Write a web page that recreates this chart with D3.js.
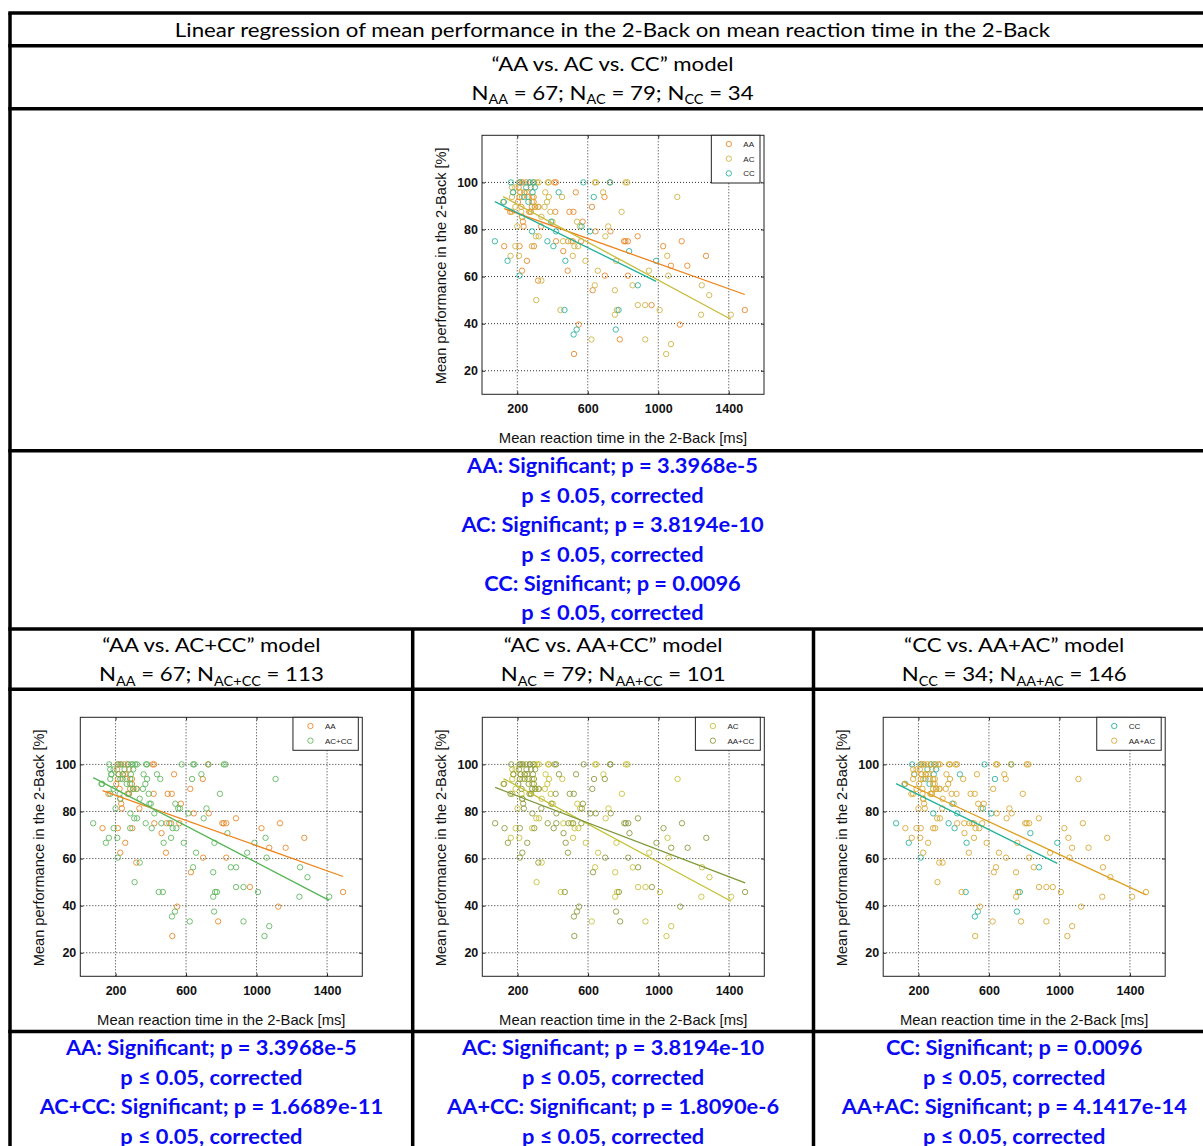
<!DOCTYPE html>
<html>
<head>
<meta charset="utf-8">
<script src="https://cdn.jsdelivr.net/npm/d3@7"></script>
<style>
  html, body { margin: 0; padding: 0; background: #fff; }
  svg { display: block; }
</style>
</head>
<body>
<svg id="chart" width="1203" height="1146"></svg>
<script>
// ---- Data: [mean reaction time (ms), mean performance (%)] per genotype ----
const groupAA = [
  [211,100],[227,100],[270,100],[410,100],[419,100],[725,100],
  [208,97.9],[277,97.9],
  [217,95.8],[255,95.8],[532,95.8],
  [213,93.8],[293,93.8],[695,93.8],
  [204,91.7],[293,91.7],
  [223,89.6],[302,89.6],[321,89.6],[624,89.6],
  [160,87.5],[268,87.5],[277,87.5],[416,87.5],[496,87.5],[519,87.5],
  [227,85.4],
  [232,83.3],[571,83.3],
  [236,81.3],[335,81.3],
  [644,79.2],[729,79.2],
  [883,77.1],
  [420,75],[489,75],[515,75],[562,75],[806,75],[814,75],[828,75],[1133,75],
  [126,72.9],[213,72.9],[295,72.9],[1028,72.9],
  [461,70.8],
  [1271,68.8],
  [255,66.7],[1072,64.6],[1165,64.6],
  [227,62.5],[486,62.5],
  [697,60.4],[828,60.4],
  [318,58.3],
  [628,54.2],
  [962,47.9],
  [1491,45.8],
  [549,39.6],[1123,39.6],
  [782,33.3],
  [522,27.1],
  [240,95.8],[250,100],[262,93.8],[283,89.6]
];

const groupAC = [
  [232,100],[297,100],[312,100],[322,100],[373,100],[379,100],[640,100],[647,100],[814,100],[824,100],
  [170,97.9],[189,97.9],
  [175,95.8],[217,95.8],[242,95.8],[359,95.8],[687,95.8],
  [170,93.8],[227,93.8],[283,93.8],[379,93.8],[454,93.8],[1108,93.8],
  [120,91.7],[283,91.7],[369,91.7],
  [189,89.6],[299,89.6],[318,89.6],[355,89.6],
  [170,87.5],[223,87.5],[274,87.5],[388,87.5],[792,87.5],
  [227,85.4],[337,85.4],[539,83.3],[555,81.3],
  [400,83.3],
  [200,81.3],
  [716,81.3],[700,77.1],
  [306,77.1],[322,77.1],
  [460,75],[505,75],[545,72.9],
  [189,72.9],[283,72.9],[524,72.9],
  [162,68.8],[210,68.8],[515,68.8],[1051,68.8],
  [587,66.7],[761,66.7],
  [657,62.5],[947,62.5],
  [1057,60.4],
  [337,58.3],
  [640,56.3],[854,56.3],[1247,56.3],
  [754,54.2],
  [1289,52.1],
  [308,50],
  [884,47.9],[926,47.9],
  [445,45.8],[765,45.8],[1008,45.8],[754,43.8],[1243,43.8],[1412,43.8],
  [621,33.3],[926,33.3],
  [1072,31.3],
  [1045,27.1]
];

const groupCC = [
  [73,75],[124,91.7],[145,66.7],[164,100],[177,95.8],[213,60.4],[215,100],[251,97.9],
  [263,91.7],[284,79.2],[287,95.8],[290,100],[300,97.9],[371,75],[392,83.3],[405,72.9],
  [420,79.2],[435,95.8],[468,45.8],[473,66.7],[520,35.4],[537,37.5],[565,81.3],[575,100],
  [613,79.2],[634,93.8],[727,100],[759,37.5],[775,45.8],[835,70.8],[884,56.3],[988,66.7],
  [240,93.8],[270,100]
];

// Fitted regression lines: [intercept, slope per ms]
const fitAA   = [92.2, -0.0267];
const fitAC   = [98.8, -0.0403];
const fitCC   = [94.5, -0.0370];
const fitACCC = [97.2, -0.0389];
const fitAACC = [92.3, -0.0286];
const fitAAAC = [96.6, -0.0349];

// Axis ticks
const xTicks = [200, 600, 1000, 1400];
const yTicks = [20, 40, 60, 80, 100];
const xDomain = [0, 1600];
const yDomain = [10, 120];

// Table texts
const titleText = "Linear regression of mean performance in the 2-Back on mean reaction time in the 2-Back";
const modelNames = ["\u201CAA vs. AC vs. CC\u201D model", "\u201CAA vs. AC+CC\u201D model", "\u201CAC vs. AA+CC\u201D model", "\u201CCC vs. AA+AC\u201D model"];
const sampleSizes = [
  [["AA", 67], ["AC", 79], ["CC", 34]],
  [["AA", 67], ["AC+CC", 113]],
  [["AC", 79], ["AA+CC", 101]],
  [["CC", 34], ["AA+AC", 146]]
];
const pValues = [
  [["AA", "3.3968e-5"], ["AC", "3.8194e-10"], ["CC", "0.0096"]],
  [["AA", "3.3968e-5"], ["AC+CC", "1.6689e-11"]],
  [["AC", "3.8194e-10"], ["AA+CC", "1.8090e-6"]],
  [["CC", "0.0096"], ["AA+AC", "4.1417e-14"]]
];
const correctionNote = "p \u2264 0.05, corrected";

// ---- Drawing ----
const svg = d3.select("#chart");
const FONT = "Lato, 'Open Sans', 'Liberation Sans', sans-serif";
const PLOT_FONT = "'Liberation Sans', Arial, Helvetica, sans-serif";
const BLUE = "#0a0af5";

function measure(str, size, weight) {
  const t = svg.append("text").style("font-family", FONT)
    .style("font-size", size + "px").style("font-weight", weight).text(str);
  const w = t.node().getComputedTextLength();
  t.remove();
  return w;
}
// Condense the sans face horizontally to a narrow body width
const sxRegular = 876 / measure(titleText, 20, 400);
const sxBold = 291 / measure("AA: Significant; p = 3.3968e-5", 20, 700);

// parts: plain strings or {sub: "..."} for subscripts
function cellText(cx, baseline, parts, bold, color) {
  const g = svg.append("g")
    .attr("transform", `translate(${cx},0) scale(${bold ? sxBold : sxRegular},1) translate(${-cx},0)`);
  const t = g.append("text").attr("x", cx).attr("y", baseline)
    .attr("text-anchor", "middle")
    .style("font-family", FONT).style("font-size", "20px")
    .style("font-weight", bold ? 700 : 400).attr("fill", color || "#000");
  let shift = 0;
  parts.forEach(p => {
    if (typeof p === "string") {
      t.append("tspan").attr("dy", -shift).text(p);
      shift = 0;
    } else {
      t.append("tspan").attr("dy", 4.5 - shift).style("font-size", "13px").text(p.sub);
      shift = 4.5;
    }
  });
  return t;
}

function sizeParts(list) {
  const parts = [];
  list.forEach(([name, n], i) => {
    parts.push("N");
    parts.push({ sub: name });
    parts.push(` = ${n}` + (i < list.length - 1 ? "; " : ""));
  });
  return parts;
}

function blueBlock(cx, firstBaseline, list) {
  let yy = firstBaseline;
  list.forEach(([name, p]) => {
    cellText(cx, yy, [`${name}: Significant; p = ${p}`], true, BLUE);
    yy += 29.4;
    cellText(cx, yy, [correctionNote], true, BLUE);
    yy += 29.4;
  });
}

// Scatter panel with regression lines, grid and legend
function drawPanel(left, top, series) {
  const w = 282, h = 259;
  const x = d3.scaleLinear().domain(xDomain).range([left, left + w]);
  const y = d3.scaleLinear().domain(yDomain).range([top + h, top]);
  const g = svg.append("g");

  g.append("rect").attr("x", left).attr("y", top).attr("width", w).attr("height", h).attr("fill", "#fff");

  // dotted grid
  g.append("g").selectAll("line").data(xTicks).join("line")
    .attr("x1", d => x(d)).attr("x2", d => x(d)).attr("y1", top).attr("y2", top + h)
    .attr("stroke", "#333").attr("stroke-width", 1).attr("stroke-dasharray", "1,2");
  g.append("g").selectAll("line").data(yTicks).join("line")
    .attr("y1", d => y(d)).attr("y2", d => y(d)).attr("x1", left).attr("x2", left + w)
    .attr("stroke", "#333").attr("stroke-width", 1).attr("stroke-dasharray", "1,2");

  // axes
  const fmt = d3.format("d");
  const styleAxis = sel => {
    sel.select(".domain").remove();
    sel.selectAll(".tick line").attr("stroke", "#222");
    sel.selectAll("text").style("font-family", PLOT_FONT).style("font-size", "12.5px")
      .style("font-weight", 700).attr("fill", "#111");
  };
  g.append("g").attr("transform", `translate(0,${top + h})`)
    .call(d3.axisBottom(x).tickValues(xTicks).tickFormat(fmt).tickSizeInner(-3).tickSizeOuter(0).tickPadding(10))
    .call(styleAxis);
  g.append("g").attr("transform", `translate(${left},0)`)
    .call(d3.axisLeft(y).tickValues(yTicks).tickFormat(fmt).tickSizeInner(-3).tickSizeOuter(0).tickPadding(4))
    .call(styleAxis);
  g.append("g").attr("transform", `translate(0,${top})`)
    .call(d3.axisTop(x).tickValues(xTicks).tickSizeInner(-3).tickSizeOuter(0).tickFormat(""))
    .call(styleAxis);
  g.append("g").attr("transform", `translate(${left + w},0)`)
    .call(d3.axisRight(y).tickValues(yTicks).tickSizeInner(-3).tickSizeOuter(0).tickFormat(""))
    .call(styleAxis);

  // points
  series.forEach(s => {
    g.append("g").selectAll("circle").data(s.data).join("circle")
      .attr("cx", d => x(d[0])).attr("cy", d => y(d[1])).attr("r", 2.7)
      .attr("fill", "none").attr("stroke", s.color).attr("stroke-width", 0.9);
  });
  // regression lines over the data range of each group
  series.forEach(s => {
    const [x0, x1] = d3.extent(s.data, d => d[0]);
    const line = d3.line().x(d => x(d)).y(d => y(s.fit[0] + s.fit[1] * d));
    g.append("path").datum([x0, x1]).attr("d", line)
      .attr("fill", "none").attr("stroke", s.lineColor).attr("stroke-width", 1.3);
  });

  // frame
  g.append("rect").attr("x", left).attr("y", top).attr("width", w).attr("height", h)
    .attr("fill", "none").attr("stroke", "#222").attr("stroke-width", 1);

  // axis titles
  g.append("text").attr("x", left + w / 2).attr("y", top + h + 49)
    .attr("text-anchor", "middle").style("font-family", PLOT_FONT).style("font-size", "14.8px")
    .attr("fill", "#111").text("Mean reaction time in the 2-Back [ms]");
  g.append("text").attr("transform", `translate(${left - 36},${top + h / 2 + 1}) rotate(-90)`)
    .attr("text-anchor", "middle").style("font-family", PLOT_FONT).style("font-size", "14.6px")
    .attr("fill", "#111").text("Mean performance in the 2-Back [%]");

  // legend
  const lg = g.append("g");
  const labels = series.map(s => s.name);
  const tmp = lg.append("text").style("font-family", PLOT_FONT).style("font-size", "8px")
    .text(labels.reduce((a, b) => (a.length >= b.length ? a : b)));
  const tw = tmp.node().getComputedTextLength();
  tmp.remove();
  const lw = 32 + tw + 6, lh = 8.7 + 14.7 * (series.length - 1) + 9.6;
  const lx = left + w - 4 - lw, ly = top;
  lg.append("rect").attr("x", lx).attr("y", ly).attr("width", lw).attr("height", lh)
    .attr("fill", "#fff").attr("stroke", "#222").attr("stroke-width", 1);
  series.forEach((s, i) => {
    const ry = ly + 8.7 + 14.7 * i;
    lg.append("circle").attr("cx", lx + 17.5).attr("cy", ry).attr("r", 2.7)
      .attr("fill", "none").attr("stroke", s.color).attr("stroke-width", 0.9);
    lg.append("text").attr("x", lx + 32).attr("y", ry + 3)
      .style("font-family", PLOT_FONT).style("font-size", "8px").attr("fill", "#222").text(s.name);
  });
}

// ---- Table frame ----
const lineW = 3.5;
const tableLeft = 10, tableRight = 1215;
const colX = [tableLeft, 412.7, 813.5, tableRight];
const rowY = [13, 45.7, 108.7, 450.7, 629, 689.3, 1031.5, 1160];
const frame = svg.append("g").attr("stroke", "#000").attr("stroke-width", lineW);
rowY.forEach(yy => frame.append("line").attr("x1", tableLeft - lineW / 2).attr("x2", tableRight + lineW / 2)
  .attr("y1", yy).attr("y2", yy));
frame.append("line").attr("x1", tableLeft).attr("x2", tableLeft).attr("y1", rowY[0]).attr("y2", rowY[rowY.length - 1]);
frame.append("line").attr("x1", tableRight).attr("x2", tableRight).attr("y1", rowY[0]).attr("y2", rowY[rowY.length - 1]);
[colX[1], colX[2]].forEach(xx => frame.append("line").attr("x1", xx).attr("x2", xx)
  .attr("y1", rowY[4]).attr("y2", rowY[rowY.length - 1]));

// ---- Header texts ----
const midAll = (tableLeft + tableRight) / 2;
cellText(midAll, 37, [titleText], false);
cellText(midAll, 71, [modelNames[0]], false);
cellText(midAll, 100, sizeParts(sampleSizes[0]), false);
blueBlock(midAll, 473.5, pValues[0]);

const colMid = [0, 1, 2].map(i => (colX[i] + colX[i + 1]) / 2);
colMid.forEach((cx, i) => {
  cellText(cx, 652.5, [modelNames[i + 1]], false);
  cellText(cx, 681.5, sizeParts(sampleSizes[i + 1]), false);
  blueBlock(cx, 1055.5, pValues[i + 1]);
});

// ---- Scatter panels ----
const colors = {
  AA: "#e8892b", AAline: "#ef8319",
  AC: "#cfb446", ACline: "#c8ba3a",
  CC: "#2cb3a0", CCline: "#1fb199",
  ACCC: "#62b862", AACC: "#8e9c40", ACmid: "#c8c23c", AAAC: "#d8a835"
};

drawPanel(482, 135.3, [
  { name: "AA", data: groupAA, fit: fitAA, color: colors.AA, lineColor: colors.AAline },
  { name: "AC", data: groupAC, fit: fitAC, color: colors.AC, lineColor: colors.ACline },
  { name: "CC", data: groupCC, fit: fitCC, color: colors.CC, lineColor: colors.CCline }
]);
drawPanel(80.3, 717.3, [
  { name: "AA", data: groupAA, fit: fitAA, color: colors.AA, lineColor: colors.AAline },
  { name: "AC+CC", data: groupAC.concat(groupCC), fit: fitACCC, color: colors.ACCC, lineColor: "#55b555" }
]);
drawPanel(482.3, 717.3, [
  { name: "AC", data: groupAC, fit: fitAC, color: colors.ACmid, lineColor: "#c4c032" },
  { name: "AA+CC", data: groupAA.concat(groupCC), fit: fitAACC, color: colors.AACC, lineColor: "#7e9838" }
]);
drawPanel(883.2, 717.3, [
  { name: "CC", data: groupCC, fit: fitCC, color: colors.CC, lineColor: colors.CCline },
  { name: "AA+AC", data: groupAA.concat(groupAC), fit: fitAAAC, color: colors.AAAC, lineColor: "#e0a020" }
]);
</script>
</body>
</html>
